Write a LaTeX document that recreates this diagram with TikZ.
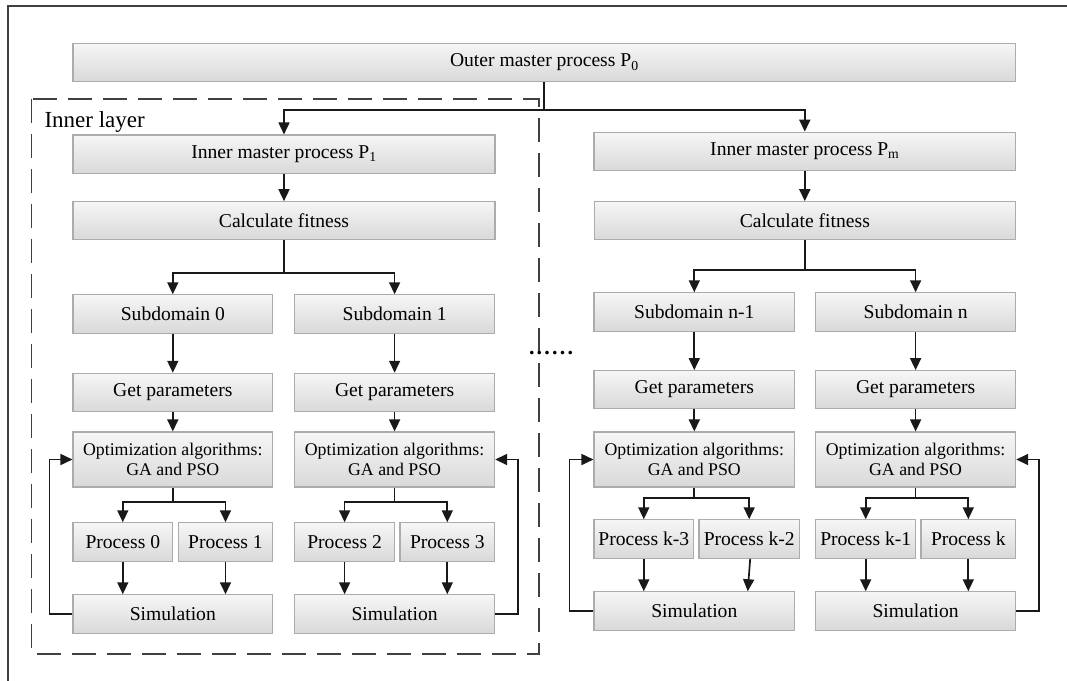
\documentclass[tikz,border=0pt]{standalone}
\usepackage{fontspec}
\setmainfont{Liberation Serif}
\usetikzlibrary{arrows.meta}
\begin{document}
\begin{tikzpicture}[x=1pt,y=-1pt,
  font=\fontsize{19.6}{22}\selectfont,
  box/.style={draw=gray!65, line width=1.2pt, top color=gray!7, bottom color=gray!30, inner sep=0pt, minimum height=38.3pt},
  optbox/.style={box, minimum height=55pt, align=center, font=\fontsize{17.8}{20}\selectfont},
  arr/.style={draw=black!90, line width=1.7pt, -{Triangle[length=12pt,width=11pt]}},
  ln/.style={draw=black!90, line width=1.7pt},
  frameline/.style={draw=black!75, line width=2pt},
  inner/.style={draw=black!75, line width=1.7pt, dash pattern=on 24pt off 11pt}
]
\useasboundingbox (0,0) rectangle (1067,680);
% outer frame (continues beyond the picture)
\draw[frameline] (8,690) -- (8,5.5) -- (1080,5.5);
% inner layer dashed box
\draw[inner] (31.5,99) rectangle (539,654);
\node[anchor=base west, font=\fontsize{23}{26}\selectfont] (innerlabel) at (41,127) {Inner layer};

% top
\node[box, minimum width=942.6pt, minimum height=38.5pt] (outer) at (544.3,62.5) {Outer master process P\textsubscript{0}};
\node[box, minimum width=422pt] (p1) at (284,154.2) {Inner master process P\textsubscript{1}};
\node[box, minimum width=421.8pt] (pm) at (804.8,151.4) {Inner master process P\textsubscript{m}};
\node[box, minimum width=422pt, minimum height=37.5pt] (calc1) at (284,220.5) {Calculate fitness};
\node[box, minimum width=421pt, minimum height=37.5pt] (calcm) at (804.8,220.5) {Calculate fitness};

% subdomains
\node[box, minimum width=199.5pt] (sub0) at (172.8,314) {Subdomain 0};
\node[box, minimum width=200pt] (sub1) at (394.6,314) {Subdomain 1};
\node[box, minimum width=200.5pt] (subn1) at (694.3,312) {Subdomain n-1};
\node[box, minimum width=200pt] (subn) at (915.6,312) {Subdomain n};

% get parameters
\node[box, minimum width=199.5pt] (get0) at (172.8,392.5) {Get parameters};
\node[box, minimum width=200pt] (get1) at (394.6,392.5) {Get parameters};
\node[box, minimum width=200.5pt, minimum height=37.6pt] (getn1) at (694.3,389.5) {Get parameters};
\node[box, minimum width=200pt, minimum height=37.6pt] (getn) at (915.6,389.5) {Get parameters};

% optimization
\node[optbox, minimum width=199.5pt] (opt0) at (172.8,459.5) {Optimization algorithms:\\GA and PSO};
\node[optbox, minimum width=200pt] (opt1) at (394.6,459.5) {Optimization algorithms:\\GA and PSO};
\node[optbox, minimum width=200.5pt] (optn1) at (694.3,459.5) {Optimization algorithms:\\GA and PSO};
\node[optbox, minimum width=200pt] (optn) at (915.6,459.5) {Optimization algorithms:\\GA and PSO};

% processes
\node[box, minimum width=99.5pt] (pr0) at (122.8,542) {Process 0};
\node[box, minimum width=94pt] (pr1) at (225.5,542) {Process 1};
\node[box, minimum width=100pt] (pr2) at (344.6,542) {Process 2};
\node[box, minimum width=94.6pt] (pr3) at (447.3,542) {Process 3};
\node[box, minimum width=99.6pt] (prk3) at (643.8,539) {Process k-3};
\node[box, minimum width=100.5pt] (prk2) at (749.2,539) {Process k-2};
\node[box, minimum width=100.2pt] (prk1) at (865.7,539) {Process k-1};
\node[box, minimum width=94.6pt] (prk) at (968.3,539) {Process k};

% simulations
\node[box, minimum width=199.5pt] (sim0) at (172.8,614) {Simulation};
\node[box, minimum width=200pt] (sim1) at (394.6,614) {Simulation};
\node[box, minimum width=200.5pt] (simn1) at (694.3,611) {Simulation};
\node[box, minimum width=200pt] (simn) at (915.6,611) {Simulation};

% dots between groups
\node[anchor=base, font=\fontsize{22}{24}\selectfont\bfseries] (dots) at (551,354.5) {.\kern2.2pt.\kern2.2pt.\kern2.2pt.\kern2.2pt.\kern2.2pt.};

% branch points
\coordinate (b0) at (544.3,110);
\coordinate (b1) at (284,272.7);
\coordinate (bm) at (804.8,270);
\coordinate (c0) at (172.8,501.7);
\coordinate (c1) at (394.6,501.7);
\coordinate (cn1) at (694.3,497.7);
\coordinate (cn) at (915.6,497.7);

% outer -> inner masters
\draw[ln] (outer.south) -- (b0);
\draw[arr] (b0) -| (p1.north);
\draw[arr] (b0) -| (pm.north);
\draw[arr] (p1) -- (calc1);
\draw[arr] (pm) -- (calcm);

% calc -> subdomains
\draw[ln] (calc1.south) -- (b1);
\draw[arr] (b1) -| (sub0.north);
\draw[arr] (b1) -| (sub1.north);
\draw[ln] (calcm.south) -- (bm);
\draw[arr] (bm) -| (subn1.north);
\draw[arr] (bm) -| (subn.north);

% subdomain -> get -> opt
\foreach \s/\g/\o in {sub0/get0/opt0, sub1/get1/opt1, subn1/getn1/optn1, subn/getn/optn}{
  \draw[arr] (\s) -- (\g);
  \draw[arr] (\g) -- (\o);
}

% opt -> processes
\draw[ln] (opt0.south) -- (c0);
\draw[arr] (c0) -| (pr0.north);
\draw[arr] (c0) -| (pr1.north);
\draw[ln] (opt1.south) -- (c1);
\draw[arr] (c1) -| (pr2.north);
\draw[arr] (c1) -| (pr3.north);
\draw[ln] (optn1.south) -- (cn1);
\draw[arr] (cn1) -| (prk3.north);
\draw[arr] (cn1) -| (prk2.north);
\draw[ln] (optn.south) -- (cn);
\draw[arr] (cn) -| (prk1.north);
\draw[arr] (cn) -| (prk.north);

% processes -> simulation
\draw[arr] (pr0.south) -- (pr0.south |- sim0.north);
\draw[arr] (pr1.south) -- (pr1.south |- sim0.north);
\draw[arr] (pr2.south) -- (pr2.south |- sim1.north);
\draw[arr] (pr3.south) -- (pr3.south |- sim1.north);
\draw[arr] (prk3.south) -- (prk3.south |- simn1.north);
\draw[arr] ([xshift=1pt]prk2.south) -- ([xshift=-1.5pt]prk2.south |- simn1.north);
\draw[arr] (prk1.south) -- (prk1.south |- simn.north);
\draw[arr] (prk.south) -- (prk.south |- simn.north);

% feedback loops
\draw[arr] (sim0.west) -- ++(-23,0) |- (opt0.west);
\draw[arr] (sim1.east) -- ++(23,0) |- (opt1.east);
\draw[arr] (simn1.west) -- ++(-24,0) |- (optn1.west);
\draw[arr] (simn.east) -- ++(23,0) |- (optn.east);
\end{tikzpicture}
\end{document}
